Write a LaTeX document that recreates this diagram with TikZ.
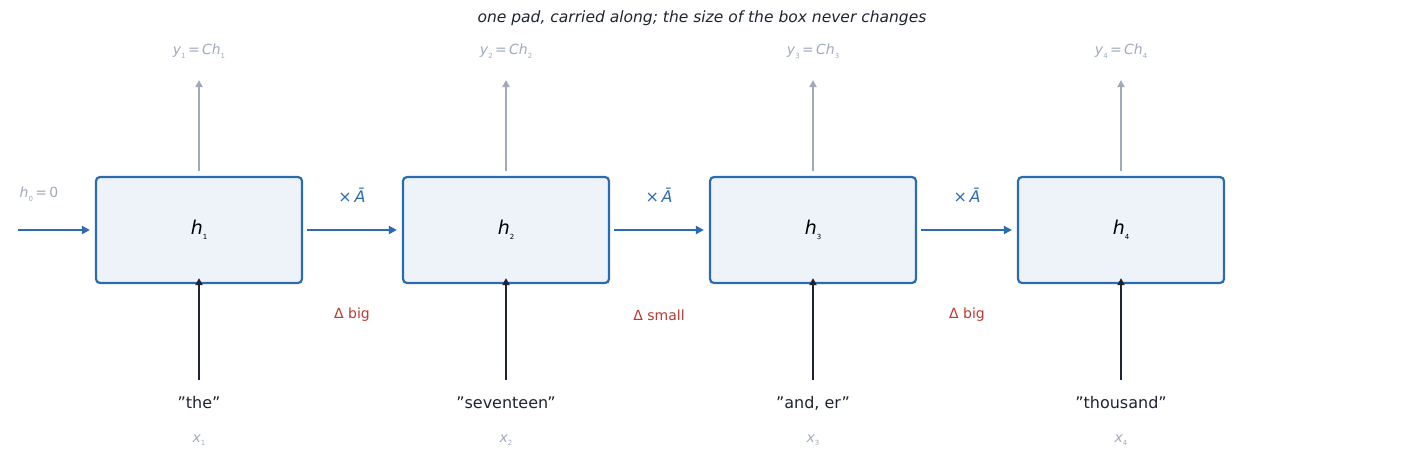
\documentclass[tikz,border=0pt]{standalone}
\usepackage{fontspec}
\setmainfont{DejaVu Sans}
\usetikzlibrary{arrows.meta}
\definecolor{blu}{HTML}{2B6CB0}
\definecolor{fillb}{HTML}{EEF3FA}
\definecolor{gry}{HTML}{A0AABB}
\definecolor{drk}{HTML}{1E2430}
\definecolor{redd}{HTML}{B83A32}
\newcommand{\iv}[2]{\textit{#1}\raisebox{-0.25em}{\scriptsize #2}}
\begin{document}
\begin{tikzpicture}[x=1pt,y=-1pt,
  box/.style={draw=blu,fill=fillb,line width=2.2pt,rounded corners=4pt,minimum width=206pt,minimum height=106pt,font=\fontsize{19}{22}\selectfont},
  harr/.style={draw=blu,line width=2.6pt,-{Triangle[length=8pt,width=8pt]}},
  uarr/.style={draw=gry,line width=2.2pt,-{Triangle[length=7pt,width=7pt]}},
  darr/.style={draw=drk,line width=2.2pt,-{Triangle[length=7pt,width=7pt]}},
  lab/.style={font=\fontsize{14}{16}\selectfont},
  tok/.style={font=\fontsize{16}{18}\selectfont,text=drk}]
\useasboundingbox (0,0) rectangle (1404,475);
\node[font=\fontsize{15.5}{18}\selectfont\itshape,text=drk] (t) at (702,18) {one pad, carried along; the size of the box never changes};
\coordinate (s) at (18,230);
\node[lab,text=gry] (h0) at (39,194) {\iv{h}{0}\,=\,0};
\foreach \i/\x/\w in {1/199/"the",2/506/"seventeen",3/813/"and{,} er",4/1121/"thousand"}{
  \node[box] (b\i) at (\x,230) {\iv{h}{\i}};
  \node[lab,text=gry] (y\i) at (\x,51) {\iv{y}{\i}\,=\,\textit{Ch}\raisebox{-0.25em}{\scriptsize\i}};
  \coordinate (ut\i) at (\x,80);
  \draw[uarr] (b\i.north) ++(0,-5) -- (ut\i);
  \node[tok] (w\i) at (\x,403) {\w};
  \node[lab,text=gry] (x\i) at (\x,440) {\iv{x}{\i}};
  \draw[darr] (\x,380) -- ([yshift=6pt]b\i.south);
}
\draw[harr] (s) -- ([xshift=-5pt]b1.west);
\foreach \a/\b/\m/\d in {1/2/352/big,2/3/659/small,3/4/967/big}{
  \draw[harr] ([xshift=4pt]b\a.east) -- ([xshift=-5pt]b\b.west);
  \node[lab,text=blu,font=\fontsize{16}{18}\selectfont] (m\a) at (\m,195) {×\,\textit{Ā}};
  \node[lab,text=redd] (d\a) at (\m,315) {Δ \d};
}
\end{tikzpicture}
\end{document}
